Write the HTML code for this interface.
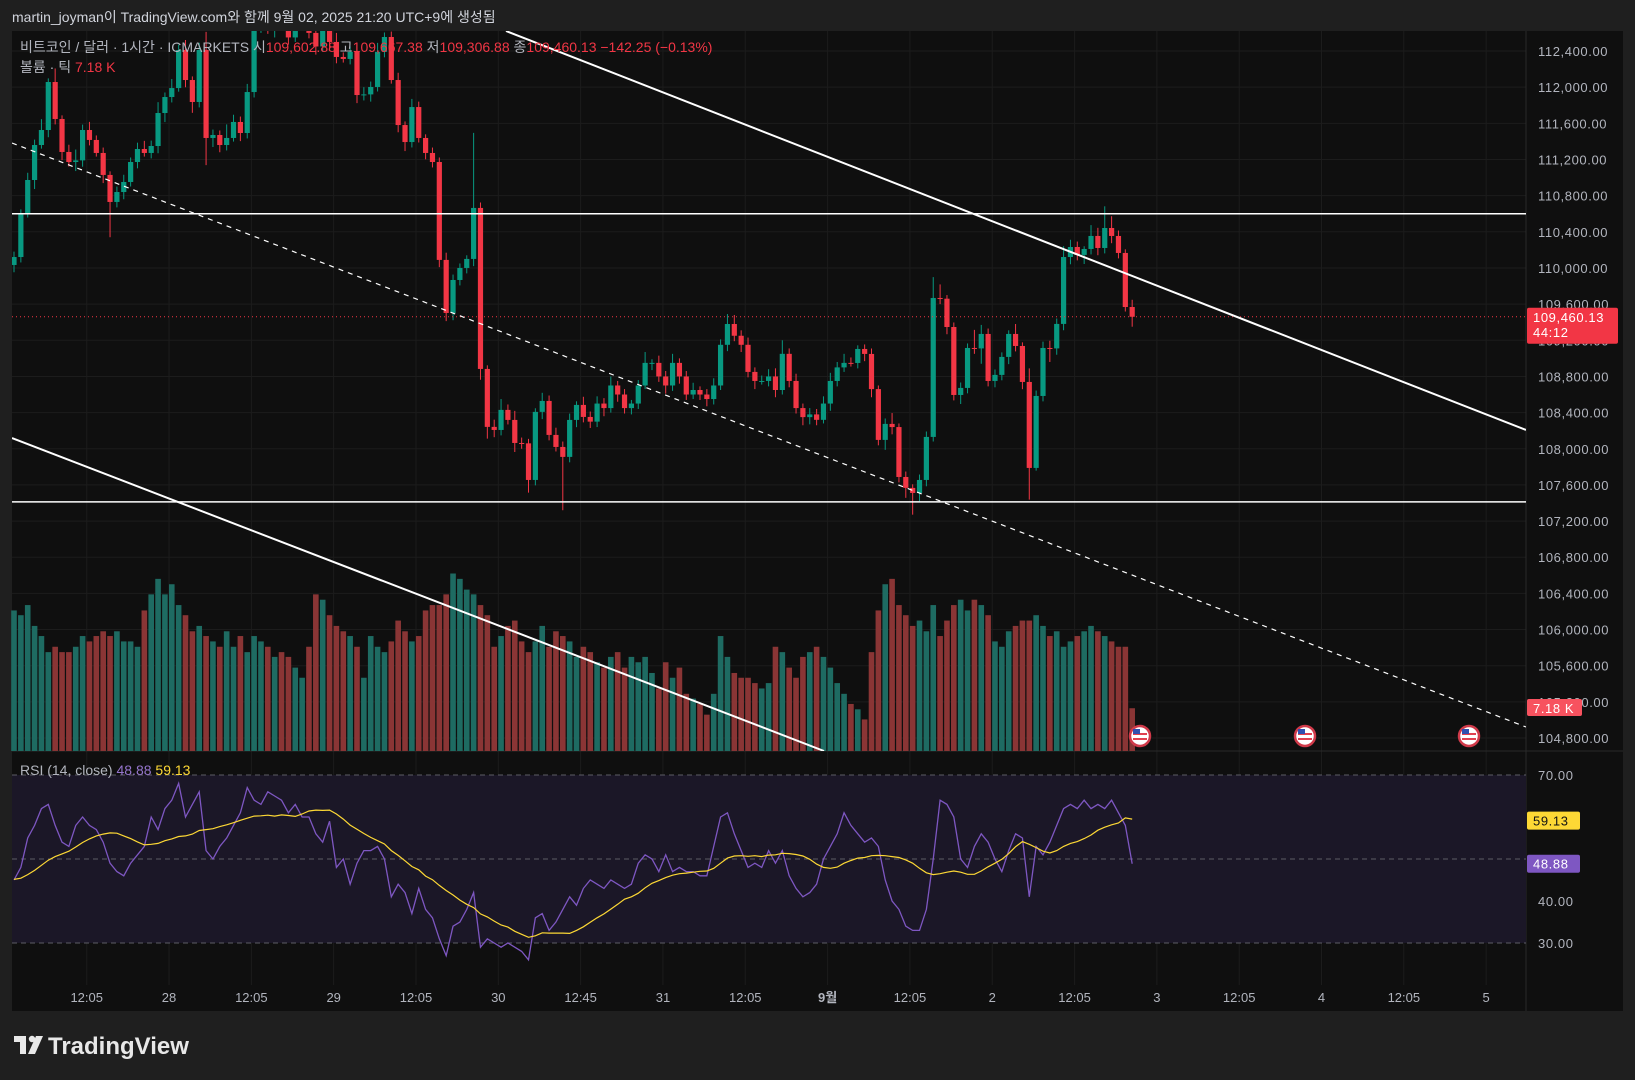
<!DOCTYPE html>
<html><head><meta charset="utf-8">
<style>
html,body{margin:0;padding:0;background:#1f1f1f;width:1635px;height:1080px;overflow:hidden}
svg text{font-family:"Liberation Sans","Noto Sans CJK KR",sans-serif}
</style></head>
<body>
<svg id="chart" width="1635" height="1080" xmlns="http://www.w3.org/2000/svg">
<rect x="0" y="0" width="1635" height="1080" fill="#1f1f1f"/>
<text x="12" y="22" font-size="14" fill="#d1d4dc">martin_joyman이 TradingView.com와 함께 9월 02, 2025 21:20 UTC+9에 생성됨</text>
<rect x="12" y="31" width="1611" height="980" fill="#0f0f0f"/>
<g id="grid"></g>
<rect x="12" y="775" width="1514" height="168" fill="#1b1727"/>
<g id="vol"></g>
<g id="candles" clip-path="url(#pc)"></g>
<defs><clipPath id="pc"><rect x="12" y="31" width="1514" height="720"/></clipPath>
<clipPath id="pc2"><rect x="12" y="31" width="1514" height="720"/></clipPath></defs>
<g id="lines" clip-path="url(#pc2)"></g>
<g id="rsi"></g>
<g id="axis"></g>
<g id="taxis"></g>
<text x="20" y="52" font-size="14" fill="#b2b5be">비트코인 / 달러 · 1시간 · ICMARKETS  시<tspan fill="#f23645">109,602.88</tspan>  고<tspan fill="#f23645">109,667.38</tspan>  저<tspan fill="#f23645">109,306.88</tspan>  종<tspan fill="#f23645">109,460.13  −142.25 (−0.13%)</tspan></text>
<text x="20" y="72" font-size="14" fill="#b2b5be">볼륨 · 틱  <tspan fill="#f23645">7.18 K</tspan></text>
<text x="20" y="775" font-size="14" fill="#b2b5be">RSI (14, close)  <tspan fill="#9575cd">48.88</tspan>  <tspan fill="#fdd835">59.13</tspan></text>
<g>
<rect x="14" y="1036" width="12" height="6" fill="#e8e8e8"/><rect x="20" y="1036" width="6" height="18" fill="#e8e8e8"/>
<circle cx="32" cy="1039" r="3.2" fill="#e8e8e8"/><polygon points="36,1036 43,1036 35,1054 28,1054" fill="#e8e8e8"/>
<text x="48" y="1054" font-size="24" font-weight="bold" fill="#e8e8e8">TradingView</text>
</g>
</svg>
<script>
const closes=[110121,110608,110973,111360,111526,112057,111648,111283,111172,111190,
111526,111416,111272,111029,110730,110840,110951,111172,111316,111272,
111349,111714,111891,111990,112411,112079,111836,112411,111438,111471,
111360,111438,111615,111493,111946,112680,112800,112650,112900,112700,
112550,112750,112850,112600,112450,112700,112500,112334,112312,112390,
111913,111920,112002,112390,112555,112079,111581,111393,111780,111438,
111272,111172,110089,109502,109867,110000,110100,110664,108883,108242,
108208,108430,108319,108064,108060,107655,108408,108529,108153,108020,
107910,108319,108485,108352,108300,108500,108450,108700,108600,108450,
108500,108700,108950,108950,108800,108700,108950,108800,108600,108650,
108600,108550,108700,109150,109380,109250,109150,108850,108750,108750,
108800,108650,109050,108750,108450,108350,108380,108320,108500,108750,
108900,108950,108949,109104,109049,108660,108098,108275,108240,107688,
107567,107511,107655,108131,109668,109660,109347,108595,108673,109115,
109110,109270,108750,108817,109016,109270,109137,108739,107788,108584,
109115,109110,109381,110121,110232,110144,110210,110354,110221,110442,
110354,110166,109568,109460];
const firstOpen=110033;
const wickUp=[60,40,80,60,120,40,150,40,80,120,60,90,50,60,40,60,80,50,70,90,60,120,50,100,60,110,40,80,200,60,50,150,80,60,90,60,80,100,60,90,80,60,100,70,40,80,60,100,50,60,40,80,60,100,50,60,80,40,90,60,40,60,50,80,60,50,40,830,60,40,80,120,60,100,60,50,40,90,60,80,60,70,40,90,60,80,60,100,50,60,40,60,120,40,80,60,100,50,60,80,40,60,80,60,110,100,60,80,50,60,80,90,150,60,80,50,70,60,80,90,60,100,60,40,50,60,40,60,120,40,60,40,60,60,230,150,40,50,60,50,200,100,60,60,50,40,110,40,150,60,70,80,60,120,80,60,30,120,90,240,130,60,40,80];
const wickDn=[80,60,50,100,40,80,60,90,50,100,70,60,40,90,390,60,80,50,70,40,60,80,100,60,40,80,120,60,300,100,80,60,40,90,60,60,80,60,100,60,80,50,70,60,90,60,80,70,40,60,90,60,80,50,60,40,80,100,60,50,70,60,80,90,80,60,60,80,120,130,80,60,50,100,60,140,60,80,60,50,590,60,80,60,70,60,90,50,80,60,70,60,40,80,60,90,60,80,60,50,60,80,60,50,70,60,80,60,90,40,60,80,50,70,60,90,80,60,40,80,60,50,40,60,80,90,60,110,80,60,110,240,90,70,50,60,80,60,100,60,60,170,60,70,60,80,60,80,350,30,60,150,70,70,80,60,100,60,80,60,80,60,50,110];
const volumes=[23.6,22.8,24.5,21,19.3,16.6,17.5,16.6,16.6,17.5,19.3,18.4,19.3,20.1,19.3,20.1,18.4,18.4,17.5,23.6,26.3,28.9,26.3,28,24.5,22.8,20.1,21,19.3,18.4,17.5,20.1,17.5,19.3,16.6,19.3,18.4,17.5,15.8,16.6,15.8,14,12.3,17.5,26.3,25.4,22.8,21,20.1,19.3,17.5,12.3,19.3,17.5,16.6,18.4,21.9,20.1,18.4,19.3,23.6,24.5,24.5,26.3,29.8,28.9,27.1,26.3,24.5,22.8,17.5,19.3,21,21.9,18.4,16.6,18.4,21,17.5,20.1,19.3,18.4,15.8,17.5,16.6,14.9,14,15.8,16.6,14,15.8,14.9,15.8,13.1,10.5,14.9,12.3,14,9.6,8.8,7.9,6.1,9.6,19.3,15.8,13.1,12.3,12.3,11.4,10.5,11.4,17.5,16.6,14,12.3,15.8,16.6,17.5,15.8,14,11.4,9.6,7.9,7,5.3,16.6,23.6,28,28.9,24.5,22.8,21,21.9,20.1,24.5,19.3,21.9,24.5,25.4,23.6,25.4,24.5,22.8,18.4,17.5,20.1,21,21.9,21.9,22.8,21,19.3,20.1,17.5,18.4,19.3,20.1,21,20.1,19.3,18.4,17.5,17.5,7.18];
const rsiValues=[45,48,55,58,62,63,58,54,53,58,60,58,57,54,49,47,46,49,51,53,60,57,62,64,68,60,63,66,52,50,53,55,58,61,67,64,63,66,65,64,61,63,60,60,56,54,59,48,50,44,49,52,52,53,50,41,44,42,37,43,38,36,31,27,34,35,38,42,29,31,30,29,30,29,28,26,36,37,33,35,38,41,39,43,45,44,43,45,44,43,44,49,51,50,47,51,47,48,47,47,46,46,53,60,61,56,52,48,49,48,52,49,52,46,43,41,42,44,50,53,56,61,58,56,54,55,53,45,40,38,34,33,33,38,50,64,63,60,50,48,53,56,54,50,47,52,56,55,41,53,51,54,58,62,63,62,64,62,63,62,64,61,58,48.88];
const rsiPrehistory=[44,43,44,45,46,46,45,44,44,45,46,47,48];
const priceTicks=[112400,112000,111600,111200,110800,110400,110000,109600,109200,108800,108400,108000,107600,107200,106800,106400,106000,105600,105200,104800];
const rsiTicks=[70,40,30];
const timeLabels=["12:05","28","12:05","29","12:05","30","12:45","31","12:05","9월","12:05","2","12:05","3","12:05","4","12:05","5"];
const timeLabelStart=10.6, timeLabelStep=12;
const hLevels=[110600,107412];
const lastPrice=109460.13;

const NS="http://www.w3.org/2000/svg";
function mk(tag,attrs,parent){const e=document.createElementNS(NS,tag);for(const k in attrs)e.setAttribute(k,attrs[k]);parent.appendChild(e);return e;}
const xOf=i=>14+i*6.86;
const yP=p=>51+(112400-p)/400*36.16;
const yV=v=>751-v*5.956;
const yR=r=>775+(70-r)*4.2;
const G="#089981",R="#f23645";
const grid=document.getElementById('grid');
priceTicks.forEach(p=>{const l=mk('line',{x1:12,x2:1526,y1:yP(p),y2:yP(p),stroke:'#1c1c1c','stroke-width':1},grid);
});
timeLabels.forEach((t,k)=>{const x=xOf(timeLabelStart+k*timeLabelStep);const l=mk('line',{x1:x,x2:x,y1:31,y2:985,stroke:'#1c1c1c','stroke-width':1},grid);
});
mk('line',{x1:12,x2:1623,y1:751,y2:751,stroke:'#2a2a2a'},grid);
mk('line',{x1:1526,x2:1526,y1:31,y2:1011,stroke:'#2a2a2a'},grid);
const cg=document.getElementById('candles'),vg=document.getElementById('vol');
closes.forEach((c,i)=>{const o=i===0?firstOpen:closes[i-1];const up=c>=o;const col=up?G:R;const x=xOf(i);
const hi=Math.max(o,c)+wickUp[i],lo=Math.min(o,c)-wickDn[i];
const w=mk('line',{x1:x,x2:x,y1:yP(hi),y2:yP(lo),stroke:col,'stroke-width':1},cg);

const yt=yP(Math.max(o,c)),yb=yP(Math.min(o,c));
const b=mk('rect',{x:x-2.6,y:yt,width:5.2,height:Math.max(1,yb-yt),fill:col},cg);

const v=volumes[i];const vb=mk('rect',{x:x-2.8,y:yV(v),width:5.6,height:751-yV(v),fill:up?'#1e6b62':'#8a3535'},vg);
});
const lg=document.getElementById('lines');
hLevels.forEach(p=>{const l=mk('line',{x1:12,x2:1526,y1:yP(p),y2:yP(p),stroke:'#ffffff','stroke-width':1.5},lg);
});
const pl=mk('line',{x1:12,x2:1526,y1:yP(lastPrice),y2:yP(lastPrice),stroke:'#f23645','stroke-width':1,'stroke-dasharray':'1 3'},lg);

[[506,31,1526,430,''],[12,438,824,751,''],[12,143,1526,727,'5 5']].forEach(s=>{
const l=mk('line',{x1:s[0],y1:s[1],x2:s[2],y2:s[3],stroke:'#ffffff','stroke-width':s[4]?1.2:2,'stroke-dasharray':s[4]||'none'},lg);
});
[1140,1305,1469].forEach(x=>{const g=mk('g',{},document.getElementById('chart'));

mk('circle',{cx:x,cy:736,r:10,fill:'#ffffff',stroke:'#d03a4a','stroke-width':2.5},g);
mk('rect',{x:x-7,y:733,width:14,height:2,fill:'#e04050'},g);mk('rect',{x:x-7,y:738,width:14,height:2,fill:'#e04050'},g);
mk('rect',{x:x-7,y:729,width:7,height:5,fill:'#3050b0'},g);});
const rg=document.getElementById('rsi');
[[70,'rsi-upper'],[50,'rsi-mid'],[30,'rsi-lower']].forEach(d=>{const l=mk('line',{x1:12,x2:1526,y1:yR(d[0]),y2:yR(d[0]),stroke:'#5d5d66','stroke-dasharray':'5 4'},rg);
});
const full=rsiPrehistory.concat(rsiValues);const P=rsiPrehistory.length;
const ma=rsiValues.map((v,i)=>{const j=i+P;const n=Math.min(14,j+1);let s=0;for(let k=j-n+1;k<=j;k++)s+=full[k];return s/n;});
const pr=mk('polyline',{points:rsiValues.map((v,i)=>xOf(i)+','+yR(v)).join(' '),fill:'none',stroke:'#7e57c2','stroke-width':1.3},rg);

const pm=mk('polyline',{points:ma.map((v,i)=>xOf(i)+','+yR(v)).join(' '),fill:'none',stroke:'#fdd835','stroke-width':1.2},rg);

const ag=document.getElementById('axis');
priceTicks.forEach(p=>{const t=mk('text',{x:1538,y:yP(p)+5,'font-size':13,fill:'#b2b5be','letter-spacing':'0.6'},ag);t.textContent=p.toLocaleString('en-US')+'.00';
});
rsiTicks.forEach(r=>{const t=mk('text',{x:1538,y:yR(r)+5,'font-size':13,fill:'#b2b5be','letter-spacing':'0.6'},ag);t.textContent=r.toFixed(2);
});
function badge(y,h,w,bg,fg,lines,name){const g=mk('g',{},ag);
mk('rect',{x:1527,y:y,width:w,height:h,fill:bg,rx:2},g);lines.forEach((s,k)=>{const t=mk('text',{x:1533,y:y+14+k*15,'font-size':13,fill:fg,'letter-spacing':'0.6'},g);t.textContent=s;});}
badge(yP(lastPrice)-9,36,91,'#f23645','#ffffff',['109,460.13','44:12'],'last-price-badge');
badge(699,17,55,'#f7525f','#ffffff',['7.18 K'],'volume-badge');
badge(yR(59.13)-9,18,53,'#fdd835','#131313',['59.13'],'rsi-ma-badge');
badge(yR(48.88)-9,18,53,'#7e57c2','#ffffff',['48.88'],'rsi-badge');
const tg=document.getElementById('taxis');
timeLabels.forEach((s,k)=>{const t=mk('text',{x:xOf(timeLabelStart+k*timeLabelStep),y:1002,'font-size':13,fill:'#b2b5be','text-anchor':'middle','font-weight':s==='9월'?'bold':'normal'},tg);t.textContent=s;
});
</script>
</body></html>
